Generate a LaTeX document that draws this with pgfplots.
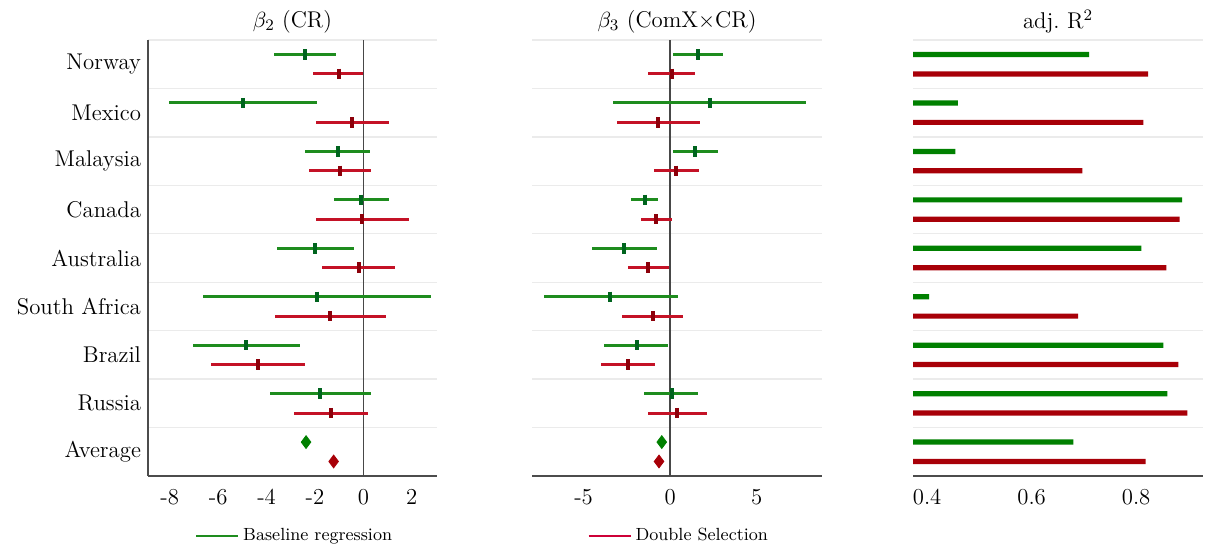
\documentclass[border=0pt]{standalone}
\usepackage{pgfplots}
\pgfplotsset{compat=1.18}
\usepackage{pgfplotstable}
\definecolor{gline}{RGB}{30,140,30}
\definecolor{rline}{RGB}{196,18,38}
\definecolor{gdark}{RGB}{0,100,30}
\definecolor{rdark}{RGB}{140,0,10}
\definecolor{gbar}{RGB}{0,128,0}
\definecolor{rbar}{RGB}{168,0,8}
\definecolor{legred}{RGB}{205,0,55}
\newcommand\mainfs{\fontsize{11.4}{13.7}\selectfont}
\newcommand\legfs{\fontsize{8.8}{10.5}\selectfont}

% panel 1: beta_2 (CR)
\pgfplotstableread{
y c lo hi
0 -2.43 -3.68 -1.13
1 -4.99 -8.04 -1.91
2 -1.06 -2.40 0.26
3 -0.10 -1.23 1.05
4 -1.98 -3.57 -0.40
5 -1.91 -6.62 2.80
6 -4.85 -7.04 -2.63
7 -1.78 -3.87 0.32
}\bAgreen
\pgfplotstableread{
y c lo hi
0 -1.02 -2.08 0.00
1 -0.47 -1.95 1.05
2 -0.98 -2.26 0.32
3 -0.05 -1.95 1.87
4 -0.19 -1.71 1.32
5 -1.36 -3.64 0.95
6 -4.37 -6.29 -2.43
7 -1.33 -2.88 0.19
}\bAred
% panel 2: beta_3 (ComX x CR)
\pgfplotstableread{
y c lo hi
0 1.64 0.16 3.08
1 2.31 -3.28 7.86
2 1.45 0.16 2.79
3 -1.45 -2.25 -0.71
4 -2.66 -4.53 -0.77
5 -3.47 -7.28 0.48
6 -1.93 -3.82 -0.13
7 0.10 -1.50 1.60
}\bBgreen
\pgfplotstableread{
y c lo hi
0 0.10 -1.25 1.45
1 -0.67 -3.05 1.73
2 0.35 -0.92 1.69
3 -0.81 -1.70 0.10
4 -1.25 -2.41 -0.06
5 -1.00 -2.79 0.77
6 -2.41 -4.01 -0.87
7 0.42 -1.25 2.16
}\bBred
% panel 3: adj. R^2
\pgfplotstableread{
y r2
0 0.710
1 0.459
2 0.454
3 0.888
4 0.810
5 0.404
6 0.852
7 0.860
8 0.680
}\rgreen
\pgfplotstableread{
y r2
0 0.823
1 0.814
2 0.697
3 0.883
4 0.858
5 0.689
6 0.881
7 0.898
8 0.818
}\rred

\pgfplotsset{
  panel/.style={
    scale only axis, width=145pt, height=218pt,
    ymin=-0.5, ymax=8.5, y dir=reverse,
    axis x line*=bottom, axis y line*=left,
    axis line style={black!70, line width=0.6pt},
    ytick={0,...,8},
    minor ytick={-0.5,0.5,...,7.5},
    yminorgrids, minor grid style={black!8, line width=0.7pt},
    major tick length=0pt, minor tick length=0pt,
    tick label style={font=\mainfs},
    xticklabel style={yshift=-3pt},
    title style={font=\mainfs, at={(0.5,1)}, anchor=center, yshift=3pt},
    legend style={draw=none, fill=none, font=\legfs, inner sep=0pt,
      nodes={inner sep=2pt}},
    legend image code/.code={\draw[##1] (0pt,0pt) -- (21pt,0pt);},
  },
  ci/.style={only marks, forget plot, mark=|, mark size=2.6pt,
    mark options={draw=#1dark, line width=2pt},
    error bars/.cd, x dir=both, x explicit,
    error bar style={#1line, line width=1.5pt}, error mark=none},
}

\begin{document}
\begin{tikzpicture}
\path[use as bounding box] (0,0) rectangle (604pt,276pt);

% ---------------- panel 1
\begin{axis}[panel, at={(74pt,38pt)}, anchor=south west, width=144.5pt,
  xmin=-8.9, xmax=3.04,
  xtick={-8,-6,-4,-2,0,2}, xticklabels={-8,-6,-4,-2,0,2},
  yticklabels={Norway,Mexico,Malaysia,Canada,Australia,South Africa,Brazil,Russia,Average},
  title={$\beta_2$ (CR)},
  legend style={at={(0.162,-0.138)}, anchor=west}]
\addlegendimage{gline, line width=1pt}
\addlegendentry{Baseline regression}
\addplot[black!72, line width=0.8pt, forget plot] coordinates {(0,-0.5) (0,8.5)};
\addplot[ci=g] table[x=c, y expr=\thisrow{y}-0.2,
  x error minus expr=\thisrow{c}-\thisrow{lo},
  x error plus expr=\thisrow{hi}-\thisrow{c}] {\bAgreen};
\addplot[ci=r] table[x=c, y expr=\thisrow{y}+0.2,
  x error minus expr=\thisrow{c}-\thisrow{lo},
  x error plus expr=\thisrow{hi}-\thisrow{c}] {\bAred};
\addplot[only marks, forget plot, mark=diamond*, mark size=3.2pt, color=gbar] coordinates {(-2.37,7.8)};
\addplot[only marks, forget plot, mark=diamond*, mark size=3.2pt, color=rbar] coordinates {(-1.23,8.2)};
\end{axis}

% ---------------- panel 2
\begin{axis}[panel, at={(266pt,38pt)}, anchor=south west,
  xmin=-7.98, xmax=8.78,
  xtick={-5,0,5}, xticklabels={-5,0,5},
  yticklabels={}, y axis line style={draw=none},
  title={$\beta_3$ (ComX$\times$CR)},
  legend style={at={(0.19,-0.138)}, anchor=west}]
\addlegendimage{legred, line width=1pt}
\addlegendentry{Double Selection}
\addplot[black!72, line width=0.8pt, forget plot] coordinates {(0,-0.5) (0,8.5)};
\addplot[ci=g] table[x=c, y expr=\thisrow{y}-0.2,
  x error minus expr=\thisrow{c}-\thisrow{lo},
  x error plus expr=\thisrow{hi}-\thisrow{c}] {\bBgreen};
\addplot[ci=r] table[x=c, y expr=\thisrow{y}+0.2,
  x error minus expr=\thisrow{c}-\thisrow{lo},
  x error plus expr=\thisrow{hi}-\thisrow{c}] {\bBred};
\addplot[only marks, forget plot, mark=diamond*, mark size=3.2pt, color=gbar] coordinates {(-0.48,7.8)};
\addplot[only marks, forget plot, mark=diamond*, mark size=3.2pt, color=rbar] coordinates {(-0.64,8.2)};
\end{axis}

% ---------------- panel 3
\begin{axis}[panel, at={(456.5pt,38pt)}, anchor=south west,
  xmin=0.373, xmax=0.928,
  xtick={0.4,0.6,0.8}, xticklabels={0.4,0.6,0.8},
  yticklabels={}, y axis line style={draw=none},
  title={adj.\ R$^2$}]
\addplot[xbar, bar width=2.6pt, bar shift=0pt, draw=none, fill=gbar, forget plot]
  table[x=r2, y expr=\thisrow{y}-0.2] {\rgreen};
\addplot[xbar, bar width=2.6pt, bar shift=0pt, draw=none, fill=rbar, forget plot]
  table[x=r2, y expr=\thisrow{y}+0.2] {\rred};
\end{axis}
\end{tikzpicture}
\end{document}
